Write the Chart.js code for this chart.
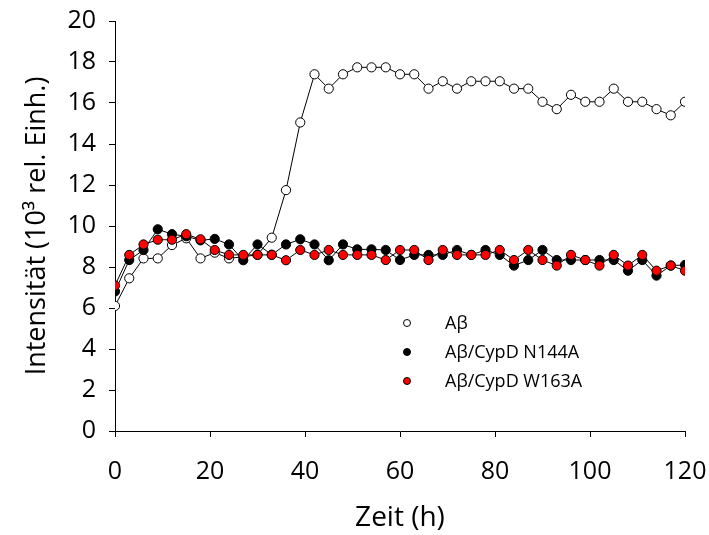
<!DOCTYPE html>
<html>
<head>
<meta charset="utf-8">
<script src="https://cdn.jsdelivr.net/npm/chart.js@4/dist/chart.umd.min.js"></script>
<style>
html,body{margin:0;padding:0;background:#fff;}
#wrap{width:709px;height:535px;position:relative;}
</style>
</head>
<body>
<div id="wrap"><canvas id="c" width="709" height="535"></canvas></div>
<script>
const times = [0,3,6,9,12,15,18,21,24,27,30,33,36,39,42,45,48,51,54,57,60,63,66,69,72,75,78,81,84,87,90,93,96,99,102,105,108,111,114,117,120];
const abeta = [6.1,7.45,8.42,8.42,9.07,9.4,8.42,8.7,8.42,8.5,8.6,9.43,11.75,15.05,17.4,16.7,17.4,17.74,17.74,17.74,17.4,17.4,16.7,17.06,16.7,17.06,17.06,17.06,16.7,16.7,16.06,15.7,16.4,16.06,16.06,16.7,16.06,16.06,15.7,15.4,16.06];
const n144a = [6.81,8.34,8.83,9.84,9.6,9.5,9.3,9.37,9.1,8.33,9.1,8.6,9.1,9.35,9.1,8.33,9.1,8.86,8.86,8.83,8.34,8.59,8.59,8.59,8.83,8.59,8.83,8.59,8.07,8.34,8.83,8.34,8.34,8.34,8.34,8.34,7.82,8.34,7.58,8.07,8.1];
const w163a = [7.1,8.59,9.1,9.33,9.33,9.6,9.35,8.83,8.59,8.59,8.59,8.59,8.33,8.83,8.59,8.83,8.59,8.59,8.59,8.34,8.83,8.83,8.34,8.83,8.59,8.59,8.59,8.83,8.34,8.83,8.34,8.07,8.59,8.34,8.07,8.59,8.07,8.59,7.82,8.07,7.82];
const seriesLabels = ['A\u03B2','A\u03B2/CypD N144A','A\u03B2/CypD W163A'];
const xTicks = [0,20,40,60,80,100,120];
const yTicks = [0,2,4,6,8,10,12,14,16,18,20];

const FONT = 'Open Sans';
function pts(vals){ return times.map((t,i)=>({x:t,y:vals[i]})); }

const legendPlugin = {
  id:'inlineLegend',
  afterDraw(chart){
    const ctx = chart.ctx;
    const ds = chart.data.datasets;
    const x0 = 407, y0 = 323, dy = 29;
    ctx.save();
    ctx.font = '18px "' + FONT + '"';
    ctx.textBaseline = 'middle';
    ctx.textAlign = 'left';
    ds.forEach((d,i)=>{
      const y = y0 + i*dy;
      ctx.beginPath();
      ctx.arc(x0, y, 3.5, 0, Math.PI*2);
      ctx.fillStyle = d.pointBackgroundColor;
      ctx.fill();
      ctx.lineWidth = 1;
      ctx.strokeStyle = '#000';
      ctx.stroke();
      ctx.fillStyle = '#000';
      ctx.fillText(d.label, 445, y+1);
    });
    ctx.restore();
  }
};

const mk = (label, vals, fill, order) => ({
  label, data: pts(vals), order,
  borderColor:'#000', borderWidth:1,
  pointBackgroundColor:fill, pointBorderColor:'#000', pointBorderWidth:1,
  pointRadius:4.6, pointHoverRadius:4.6, tension:0, fill:false
});

new Chart(document.getElementById('c'), {
  type:'line',
  data:{ datasets:[
    mk(seriesLabels[0], abeta, '#ffffff', 3),
    mk(seriesLabels[1], n144a, '#000000', 2),
    mk(seriesLabels[2], w163a, '#ff0000', 1)
  ]},
  options:{
    responsive:false, animation:false,
    layout:{padding:{left:0,right:24,top:21,bottom:0}},
    plugins:{legend:{display:false}, tooltip:{enabled:false}},
    scales:{
      x:{
        type:'linear', min:0, max:120,
        afterBuildTicks(s){ s.ticks = xTicks.map(v=>({value:v})); },
        afterFit(s){ s.height = 104; s.paddingLeft = 0; s.paddingRight = 0; },
        ticks:{ font:{family:FONT,size:25}, color:'#000', padding:20, maxRotation:0, autoSkip:false },
        grid:{ display:true, drawOnChartArea:false, drawTicks:true, tickLength:6, color:'#000', lineWidth:1 },
        border:{ display:true, color:'#000', width:1 },
        title:{ display:true, text:'Zeit (h)', font:{family:FONT,size:28}, color:'#000', padding:{top:0,bottom:0} }
      },
      y:{
        type:'linear', min:0, max:20,
        afterBuildTicks(s){ s.ticks = yTicks.map(v=>({value:v})); },
        afterFit(s){ s.width = 115; s.paddingTop = 0; s.paddingBottom = 0; },
        ticks:{ font:{family:FONT,size:25}, color:'#000', padding:13, autoSkip:false },
        grid:{ display:true, drawOnChartArea:false, drawTicks:true, tickLength:6, color:'#000', lineWidth:1 },
        border:{ display:true, color:'#000', width:1 },
        title:{ display:true, text:'Intensität (10³ rel. Einh.)', font:{family:FONT,size:27}, color:'#000', padding:{top:21,bottom:0} }
      }
    }
  },
  plugins:[legendPlugin]
});
</script>
</body>
</html>
